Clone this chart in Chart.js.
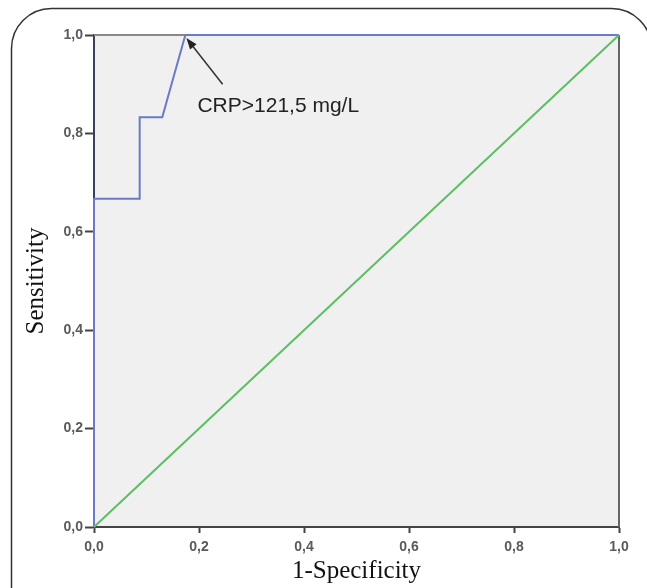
<!DOCTYPE html>
<html>
<head>
<meta charset="utf-8">
<script src="https://cdn.jsdelivr.net/npm/chart.js@4/dist/chart.umd.min.js"></script>
<style>
  html, body { margin: 0; padding: 0; background: #fff; }
  canvas { display: block; }
</style>
</head>
<body>
<canvas id="roc" width="647" height="588"></canvas>
<script>
// ROC curve (1-specificity vs sensitivity)
const fpr = [0, 0, 0.087, 0.087, 0.13, 0.174, 1];
const tpr = [0, 0.667, 0.667, 0.833, 0.833, 1, 1];
const refX = [0, 1];
const refY = [0, 1];
const tickValues = [0, 0.2, 0.4, 0.6, 0.8, 1];
const cutoffLabel = "CRP>121,5 mg/L";
const cutoffPoint = { x: 0.174, y: 1 };
const arrowTail = { x: 0.245, y: 0.9 };
const labelAnchor = { x: 0.197, y: 0.856 };

const fmt = (v) => v.toFixed(1).replace(".", ",");

const framePlugin = {
  id: "frame",
  beforeDraw(chart) {
    const { ctx, chartArea: a } = chart;
    ctx.save();
    ctx.fillStyle = "#f0f0f0";
    ctx.fillRect(a.left, a.top, a.right - a.left, a.bottom - a.top);
    // outer rounded frame
    ctx.strokeStyle = "#333";
    ctx.lineWidth = 1.5;
    ctx.beginPath();
    ctx.roundRect(11.5, 8.5, 640, 640, 40);
    ctx.stroke();
    ctx.restore();
  },
  beforeDatasetsDraw(chart) {
    const { ctx, chartArea: a } = chart;
    ctx.save();
    ctx.lineWidth = 2;
    ctx.strokeStyle = "#888";
    ctx.beginPath();
    ctx.moveTo(a.left, a.top);
    ctx.lineTo(a.right, a.top);
    ctx.stroke();
    ctx.strokeStyle = "#666";
    ctx.beginPath();
    ctx.moveTo(a.right, a.top);
    ctx.lineTo(a.right, a.bottom);
    ctx.stroke();
    ctx.restore();
  },
  afterDatasetsDraw(chart) {
    const { ctx, scales } = chart;
    const x = scales.x, y = scales.y;
    const tx = x.getPixelForValue(cutoffPoint.x) + 1;
    const ty = y.getPixelForValue(cutoffPoint.y) + 3;
    const sx = x.getPixelForValue(arrowTail.x);
    const sy = y.getPixelForValue(arrowTail.y);
    const ang = Math.atan2(ty - sy, tx - sx);
    ctx.save();
    ctx.strokeStyle = "#333";
    ctx.fillStyle = "#222";
    ctx.lineWidth = 1.5;
    ctx.beginPath();
    ctx.moveTo(sx, sy);
    ctx.lineTo(tx - 6 * Math.cos(ang), ty - 6 * Math.sin(ang));
    ctx.stroke();
    ctx.beginPath();
    ctx.moveTo(tx, ty);
    ctx.lineTo(tx - 12 * Math.cos(ang - 0.35), ty - 12 * Math.sin(ang - 0.35));
    ctx.lineTo(tx - 12 * Math.cos(ang + 0.35), ty - 12 * Math.sin(ang + 0.35));
    ctx.closePath();
    ctx.fill();
    ctx.font = "21px 'Liberation Sans', Arial, sans-serif";
    ctx.textBaseline = "middle";
    ctx.textAlign = "left";
    ctx.fillStyle = "#222";
    ctx.fillText(cutoffLabel, x.getPixelForValue(labelAnchor.x), y.getPixelForValue(labelAnchor.y));
    ctx.restore();
  },
};

const tickFont = { family: "'Liberation Sans', Arial, sans-serif", size: 14, weight: "bold" };
const titleFont = { family: "'Liberation Serif', 'Times New Roman', serif", size: 25 };

new Chart(document.getElementById("roc"), {
  type: "scatter",
  data: {
    datasets: [
      {
        data: refX.map((v, i) => ({ x: v, y: refY[i] })),
        showLine: true,
        borderColor: "#5cbf63",
        borderWidth: 2,
        pointRadius: 0,
        clip: false,
      },
      {
        data: fpr.map((v, i) => ({ x: v, y: tpr[i] })),
        showLine: true,
        borderColor: "#6c7ac4",
        borderWidth: 2,
        pointRadius: 0,
        clip: false,
      },
    ],
  },
  options: {
    responsive: false,
    animation: false,
    layout: { padding: { left: 12, top: 35, right: 28, bottom: 0 } },
    plugins: { legend: false, tooltip: { enabled: false } },
    scales: {
      x: {
        type: "linear",
        min: 0,
        max: 1,
        afterBuildTicks: (s) => { s.ticks = tickValues.map((v) => ({ value: v })); },
        afterFit: (s) => { s.height = 61; },
        ticks: { callback: fmt, font: tickFont, color: "#5a5a5a", padding: 6, maxRotation: 0 },
        grid: { drawOnChartArea: false, drawTicks: true, tickLength: 6, tickWidth: 2, color: "#444" },
        border: { color: "#444", width: 2 },
        title: { display: true, text: "1-Specificity", font: titleFont, color: "#111", padding: { top: 0, bottom: 2 } },
      },
      y: {
        min: 0,
        max: 1,
        afterBuildTicks: (s) => { s.ticks = tickValues.map((v) => ({ value: v })); },
        afterFit: (s) => { s.width = 82; },
        ticks: { callback: fmt, font: tickFont, color: "#5a5a5a", padding: 2 },
        grid: { drawOnChartArea: false, drawTicks: true, tickLength: 9, tickWidth: 2, color: "#444" },
        border: { color: "#3a3d5c", width: 2 },
        title: { display: true, text: "Sensitivity", font: titleFont, color: "#111", padding: { top: 9, bottom: 0 } },
      },
    },
  },
  plugins: [framePlugin],
});
</script>
</body>
</html>
